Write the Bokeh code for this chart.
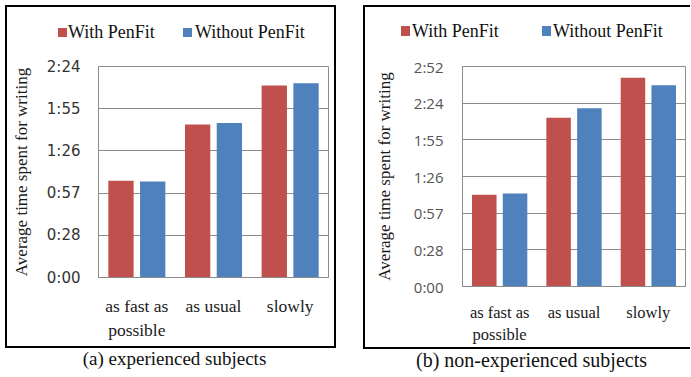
from bokeh.plotting import figure
from bokeh.models import (FactorRange, Range1d, FixedTicker, ColumnDataSource,
                          Div, Row, Column)
from bokeh.transform import dodge
from bokeh.embed import file_html
from bokeh.resources import INLINE

# ---- data (seconds) ----
categories = ["as fast as\npossible", "as usual", "slowly"]
series_names = ["With PenFit", "Without PenFit"]

exp_with = [66.0, 104.5, 131.0]
exp_without = [65.5, 105.5, 132.5]
nonexp_with = [72.0, 132.5, 164.0]
nonexp_without = [73.0, 140.0, 158.0]

exp_ticks = [0, 28.8, 57.6, 86.4, 115.2, 144]
exp_tick_labels = ["0:00", "0:28", "0:57", "1:26", "1:55", "2:24"]
nonexp_ticks = [0, 28.8, 57.6, 86.4, 115.2, 144, 172.8]
nonexp_tick_labels = ["0:00", "0:28", "0:57", "1:26", "1:55", "2:24", "2:52"]

y_title = "Average time spent for writing"
captions = ["(a) experienced subjects", "(b) non-experienced subjects"]

RED = "#C0504D"
BLUE = "#4F81BD"
SERIES_COLORS = [RED, BLUE]
GRID = "#8c8c8c"
SERIF = "Liberation Serif"


def line(w, h):
    return Div(text="", width=w, height=h, margin=0,
               styles={"background-color": "black"})


def legend_div(w, h, sq_x, sq_y, sq_w, sq_h, txt_x, txt_y):
    font = "font-family:Liberation Serif,serif;font-size:18px;color:#111;"
    parts = []
    for name, color, sx, tx in zip(series_names, SERIES_COLORS, sq_x, txt_x):
        parts.append(
            f'<span style="position:absolute;left:{sx}px;top:{sq_y}px;'
            f'width:{sq_w}px;height:{sq_h}px;background:{color};"></span>')
        parts.append(
            f'<span style="position:absolute;left:{tx}px;top:{txt_y}px;'
            f'line-height:20px;white-space:nowrap;{font}">{name}</span>')
    html = (f'<div style="position:relative;width:{w}px;height:{h}px;{font}">'
            + "".join(parts) + "</div>")
    return Div(text=html, width=w, height=h, margin=0,
               styles={"background-color": "white", "font-family": SERIF,
                       "font-size": "18px"})


def chart(vals_with, vals_without, ticks, tick_labels, cfg):
    src = ColumnDataSource(dict(cat=categories, w=vals_with, wo=vals_without))
    p = figure(x_range=FactorRange(factors=categories, range_padding=0),
               y_range=Range1d(0, ticks[-1]),
               width=cfg["w"], height=cfg["h"],
               output_backend="svg", toolbar_location=None,
               min_border_left=cfg["ml"], min_border_right=cfg["mr"],
               min_border_top=cfg["mt"], min_border_bottom=cfg["mb"],
               background_fill_color="white", border_fill_color="white",
               outline_line_color=GRID, outline_line_width=1, margin=0)
    p.vbar(x=dodge("cat", -0.207, range=p.x_range), top="w", width=0.33,
           source=src, fill_color=RED, line_color=None)
    p.vbar(x=dodge("cat", 0.207, range=p.x_range), top="wo", width=0.33,
           source=src, fill_color=BLUE, line_color=None)

    p.xgrid.grid_line_color = None
    p.ygrid.grid_line_color = GRID
    p.ygrid.grid_line_width = 1

    xa = p.xaxis[0]
    xa.axis_line_color = GRID
    xa.major_tick_line_color = None
    xa.minor_tick_line_color = None
    xa.major_tick_out = 0
    xa.major_tick_in = 0
    xa.major_label_text_font = SERIF
    xa.major_label_text_font_size = cfg["xfs"]
    xa.major_label_text_color = "#1a1a1a"
    xa.major_label_standoff = cfg["xstand"]

    ya = p.yaxis[0]
    ya.ticker = FixedTicker(ticks=ticks, minor_ticks=[])
    ya.major_label_overrides = {t: l for t, l in zip(ticks, tick_labels)}
    ya.axis_line_color = GRID
    ya.major_tick_line_color = None
    ya.minor_tick_line_color = None
    ya.major_tick_out = 0
    ya.major_tick_in = 0
    ya.major_label_text_font = cfg["yfont"]
    ya.major_label_text_font_size = cfg["yfs"]
    ya.major_label_text_color = cfg["ycol"]
    ya.major_label_standoff = cfg["ystand"]
    ya.axis_label = y_title
    ya.axis_label_text_font = SERIF
    ya.axis_label_text_font_size = cfg["tfs"]
    ya.axis_label_text_font_style = "normal"
    ya.axis_label_text_color = "#1a1a1a"
    ya.axis_label_standoff = cfg["tstand"]
    return p


# ---- panel (a) ----
leg_a = legend_div(327, 40, sq_x=[51, 176], sq_y=21, sq_w=9, sq_h=9,
                   txt_x=[61, 188], txt_y=15)
ch_a = chart(exp_with, exp_without, exp_ticks, exp_tick_labels, dict(
    w=327, h=299, ml=91, mr=6, mt=19, mb=69, xfs="17.5px", xstand=18,
    yfont="DejaVu Sans", yfs="15px", ycol="#333333", ystand=18,
    tfs="17px", tstand=13))
panel_a = Row(line(2, 343),
              Column(line(327, 2), leg_a, ch_a, line(327, 2), spacing=0),
              line(2, 343), spacing=0)
cap_a = Div(text=captions[0], width=331, height=18, margin=0,
            styles={"font-family": SERIF, "font-size": "19px", "line-height": "18px",
                    "text-align": "center", "text-indent": "8px", "color": "#111"})

# ---- panel (b) ----
leg_b = legend_div(325, 40, sq_x=[36, 177], sq_y=19, sq_w=9, sq_h=10,
                   txt_x=[47, 188], txt_y=14)
ch_b = chart(nonexp_with, nonexp_without, nonexp_ticks, nonexp_tick_labels, dict(
    w=325, h=300, ml=97, mr=5, mt=19, mb=59, xfs="16.5px", xstand=16,
    yfont="Open Sans", yfs="15px", ycol="#555555", ystand=19,
    tfs="17px", tstand=17))
panel_b = Row(line(2, 344),
              Column(line(325, 2), leg_b, ch_b, line(325, 2), spacing=0),
              spacing=0)
cap_b = Div(text=captions[1], width=327, height=18, margin=0,
            styles={"font-family": SERIF, "font-size": "20px", "line-height": "18px",
                    "text-align": "center", "text-indent": "10px", "color": "#111"})

layout = Row(Column(panel_a, cap_a, spacing=2),
             Column(panel_b, cap_b, spacing=2), spacing=27, margin=(5, 0, 0, 5))

open("out.html", "w").write(file_html(layout, INLINE))
